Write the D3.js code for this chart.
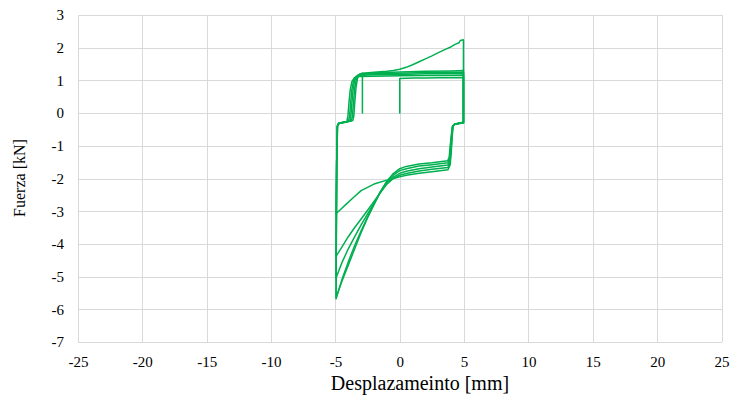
<!DOCTYPE html>
<html>
<head>
<meta charset="utf-8">
<script src="https://cdn.jsdelivr.net/npm/d3@7"></script>
<style>
  html, body { margin: 0; padding: 0; background: #fff; }
  svg { display: block; }
  text { font-family: "Liberation Serif", "Times New Roman", serif; fill: #000; }
</style>
</head>
<body>
<svg id="chart" width="731" height="402"></svg>
<script>
// ---- Data ----
const xTicks = [-25, -20, -15, -10, -5, 0, 5, 10, 15, 20, 25];
const yTicks = [-7, -6, -5, -4, -3, -2, -1, 0, 1, 2, 3];
const xLabel = "Desplazameinto [mm]";
const yLabel = "Fuerza [kN]";

// cycle 1: initial loading, first loop
const ciclo1 = [
  [0,0],[0,1.06],[1,1.07],[2,1.07],[3,1.08],[4,1.08],[4.95,1.08],
  [4.95,-0.28],[4.6,-0.3],[4.3,-0.33],[4.15,-0.38],[4.08,-0.7],[4.0,-1.2],[3.92,-1.58],[3.75,-1.73],
  [2.5,-1.79],[1.5,-1.84],[0.5,-1.9],[0,-1.95],[-0.5,-2.0],[-1,-2.05],[-2,-2.17],[-3,-2.37],[-3.6,-2.58],[-4.2,-2.8],[-4.6,-2.95],[-4.95,-3.08],
  [-4.9,-1.5],[-4.86,-0.42],[-4.78,-0.32],[-4.45,-0.3],[-4.12,-0.27],[-4.03,-0.1],[-3.95,0.3],[-3.85,0.7],[-3.72,0.96],[-3.52,1.08],[-3.3,1.12]
];
const ciclo2 = [
  [-3.3,1.12],[-2,1.13],[0,1.14],[2,1.15],[4,1.15],[4.95,1.16],
  [4.95,-0.28],[4.6,-0.31],[4.28,-0.34],[4.13,-0.4],[4.06,-0.7],[3.98,-1.15],[3.9,-1.5],[3.75,-1.66],
  [2.5,-1.72],[1.5,-1.77],[0.5,-1.85],[0,-1.9],[-0.5,-2.0],[-1,-2.17],[-1.5,-2.43],[-2,-2.7],[-2.5,-2.97],[-3,-3.24],[-3.5,-3.5],[-4,-3.78],[-4.5,-4.1],[-4.95,-4.38],
  [-4.9,-1.5],[-4.85,-0.4],[-4.75,-0.31],[-4.4,-0.29],[-4.0,-0.26],[-3.9,-0.1],[-3.82,0.3],[-3.72,0.72],[-3.6,0.98],[-3.4,1.12],[-3.2,1.15]
];
const ciclo3 = [
  [-3.2,1.15],[-2,1.17],[0,1.18],[2,1.2],[4,1.2],[4.95,1.2],
  [4.95,-0.29],[4.6,-0.31],[4.26,-0.34],[4.11,-0.4],[4.04,-0.7],[3.96,-1.1],[3.88,-1.45],[3.74,-1.59],
  [2.5,-1.65],[1.5,-1.7],[0.5,-1.78],[0,-1.84],[-0.5,-1.96],[-1,-2.15],[-1.5,-2.42],[-2,-2.75],[-2.5,-3.08],[-3,-3.42],[-3.5,-3.78],[-4,-4.15],[-4.5,-4.58],[-4.95,-5.04],
  [-4.9,-1.5],[-4.85,-0.4],[-4.73,-0.31],[-4.35,-0.28],[-3.88,-0.25],[-3.8,-0.1],[-3.72,0.3],[-3.62,0.74],[-3.5,1.0],[-3.3,1.15],[-3.1,1.18]
];
const ciclo4 = [
  [-3.1,1.18],[-2,1.2],[0,1.22],[2,1.24],[4,1.25],[4.95,1.25],
  [4.95,-0.29],[4.6,-0.32],[4.24,-0.35],[4.1,-0.42],[4.02,-0.7],[3.94,-1.05],[3.86,-1.4],[3.73,-1.52],
  [2.5,-1.58],[1.5,-1.62],[0.5,-1.7],[0,-1.76],[-0.5,-1.9],[-1,-2.1],[-1.5,-2.4],[-2,-2.78],[-2.5,-3.18],[-3,-3.6],[-3.5,-4.05],[-4,-4.55],[-4.5,-5.1],[-4.95,-5.68],
  [-4.9,-1.5],[-4.84,-0.4],[-4.7,-0.3],[-4.3,-0.27],[-3.76,-0.24],[-3.68,-0.1],[-3.6,0.3],[-3.5,0.76],[-3.38,1.03],[-3.2,1.17],[-3.0,1.2]
];
const ciclo5 = [
  [-3.0,1.2],[-2,1.23],[0,1.26],[2,1.28],[4,1.29],[4.95,1.3],
  [4.95,-0.3],[4.6,-0.32],[4.22,-0.35],[4.08,-0.42],[4.0,-0.7],[3.92,-1.0],[3.84,-1.35],[3.72,-1.46],
  [2.5,-1.52],[1.5,-1.56],[0.5,-1.63],[0,-1.7],[-0.5,-1.85],[-1,-2.08],[-1.5,-2.4],[-2,-2.8],[-2.5,-3.2],[-3,-3.65],[-3.5,-4.15],[-4,-4.65],[-4.5,-5.15],[-4.95,-5.65],
  [-4.9,-1.5],[-4.83,-0.4],[-4.68,-0.3],[-4.25,-0.27],[-3.65,-0.23],[-3.57,-0.1],[-3.5,0.3],[-3.4,0.78],[-3.28,1.06],[-3.1,1.2],[-2.9,1.22]
];
const ciclo6 = [
  [-2.9,1.22],[-2,1.25],[-1,1.28],[-0.5,1.3],[0,1.34],[0.5,1.4],[1,1.48],[1.5,1.57],[2,1.66],[2.5,1.75],[3,1.85],[3.5,1.94],[4,2.03],[4.3,2.1],[4.6,2.15],[4.7,2.22],[4.95,2.24],
  [4.95,-0.3],[4.6,-0.32],[4.3,-0.34]
];
const tramo = [[-2.9,0],[-2.9,1.1]];

const series = [ciclo1, ciclo2, ciclo3, ciclo4, ciclo5, ciclo6, tramo];

// ---- Layout ----
const svg = d3.select("#chart");
const plot = { left: 78, right: 721.5, top: 15, bottom: 342 };
const x = d3.scaleLinear().domain([-25, 25]).range([plot.left, plot.right]);
const y = d3.scaleLinear().domain([-7, 3]).range([plot.bottom, plot.top]);

// gridlines
const grid = svg.append("g").attr("stroke", "#d9d9d9").attr("stroke-width", 1).attr("shape-rendering", "crispEdges");
grid.selectAll("line.v").data(xTicks).join("line")
  .attr("x1", d => Math.round(x(d)) + 0.5).attr("x2", d => Math.round(x(d)) + 0.5)
  .attr("y1", plot.top).attr("y2", plot.bottom);
grid.selectAll("line.h").data(yTicks).join("line")
  .attr("y1", d => Math.round(y(d)) + 0.5).attr("y2", d => Math.round(y(d)) + 0.5)
  .attr("x1", plot.left).attr("x2", plot.right);

const fmt = d => String(d);

// axes (labels only)
const xAxis = svg.append("g").attr("transform", `translate(0,${plot.bottom})`)
  .call(d3.axisBottom(x).tickValues(xTicks).tickFormat(fmt).tickSize(0).tickPadding(14));
xAxis.select(".domain").remove();
xAxis.attr("font-family", null);
xAxis.selectAll("text").attr("font-size", "15px").style("font-family", "Liberation Serif");

const yAxis = svg.append("g").attr("transform", `translate(${plot.left},0)`)
  .call(d3.axisLeft(y).tickValues(yTicks).tickFormat(fmt).tickSize(0).tickPadding(14));
yAxis.select(".domain").remove();
yAxis.attr("font-family", null);
yAxis.selectAll("text").attr("font-size", "15px").style("font-family", "Liberation Serif");

// axis titles
svg.append("text").attr("x", 420).attr("y", 390).attr("text-anchor", "middle")
  .attr("font-size", "20px").text(xLabel);
svg.append("text").attr("transform", "translate(25,178) rotate(-90)").attr("text-anchor", "middle")
  .attr("font-size", "16px").text(yLabel);

// data lines
const line = d3.line().x(d => x(d[0])).y(d => y(d[1]));
svg.append("g").selectAll("path").data(series).join("path")
  .attr("d", line)
  .attr("fill", "none")
  .attr("stroke", "#00b050")
  .attr("stroke-width", 1.5)
  .attr("stroke-linejoin", "round")
  .attr("stroke-linecap", "round");
</script>
</body>
</html>
